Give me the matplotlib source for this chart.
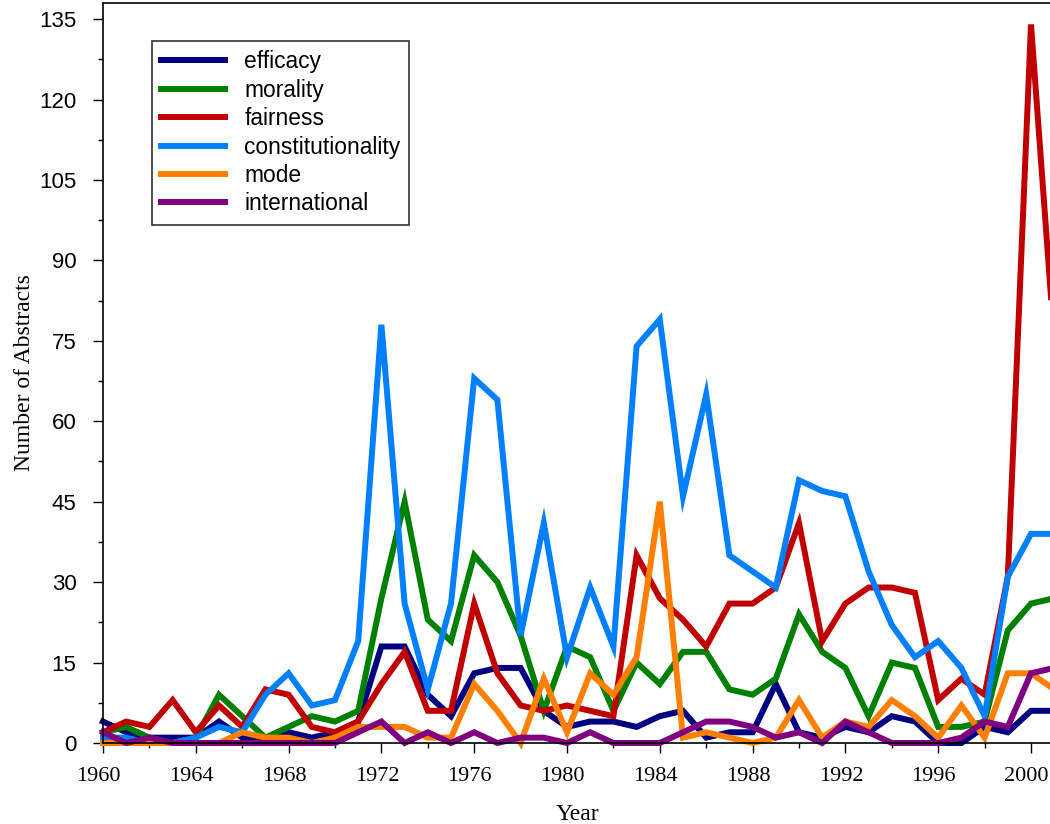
import numpy as np
import matplotlib
matplotlib.use("Agg")
import matplotlib.pyplot as plt
import matplotlib.transforms as mtransforms
from matplotlib.ticker import MultipleLocator

# Yearly counts of abstracts per frame, 1960-2001
years = np.arange(1960, 2002)

efficacy = [4, 2, 1, 1, 1, 4, 1, 1, 2, 1, 2, 4, 18, 18, 9, 5, 13, 14, 14, 6,
            3, 4, 4, 3, 5, 6, 1, 2, 2, 11, 2, 1, 3, 2, 5, 4, 0, 0, 3, 2, 6, 6]
morality = [2, 3, 1, 0, 1, 9, 5, 1, 3, 5, 4, 6, 27, 45, 23, 19, 35, 30, 20, 6,
            18, 16, 6, 15, 11, 17, 17, 10, 9, 12, 24, 17, 14, 5, 15, 14, 3, 3, 4, 21, 26, 27]
fairness = [2, 4, 3, 8, 2, 7, 3, 10, 9, 3, 2, 4, 11, 17, 6, 6, 26, 13, 7, 6,
            7, 6, 5, 35, 27, 23, 18, 26, 26, 29, 41, 19, 26, 29, 29, 28, 8, 12, 9, 31, 134, 75]
constitutionality = [1, 1, 0, 0, 1, 3, 2, 9, 13, 7, 8, 19, 78, 26, 10, 26, 68, 64, 20, 41,
                     16, 29, 18, 74, 79, 46, 65, 35, 32, 29, 49, 47, 46, 32, 22, 16, 19, 14, 5, 31, 39, 39]
mode = [0, 0, 0, 0, 0, 0, 2, 1, 1, 0, 1, 3, 3, 3, 1, 1, 11, 6, 0, 12,
        2, 13, 9, 16, 45, 1, 2, 1, 0, 1, 8, 1, 4, 3, 8, 5, 1, 7, 1, 13, 13, 10]
international = [2, 0, 1, 0, 0, 0, 0, 0, 0, 0, 0, 2, 4, 0, 2, 0, 2, 0, 1, 1,
                 0, 2, 0, 0, 0, 2, 4, 4, 3, 1, 2, 0, 4, 2, 0, 0, 0, 1, 4, 3, 13, 14]

series = [
    ("efficacy", efficacy, "#000080"),
    ("morality", morality, "#008000"),
    ("fairness", fairness, "#C00000"),
    ("constitutionality", constitutionality, "#0080FF"),
    ("mode", mode, "#FF8000"),
    ("international", international, "#800080"),
]

fig = plt.figure(figsize=(10.5, 8.24), dpi=100)
# axes run slightly past the right edge of the canvas
ax = fig.add_axes([103 / 1050, 81 / 824, 948 / 1050, 740 / 824])

for name, vals, col in series:
    ax.plot(years, vals, color=col, linewidth=4.3, label=name,
            solid_joinstyle="miter", clip_on=False)

ax.set_xlim(1960, 1960 + 948 / 23.2)
ax.set_ylim(0, 138)

ax.xaxis.set_major_locator(MultipleLocator(4))
ax.xaxis.set_minor_locator(MultipleLocator(2))
ax.yaxis.set_major_locator(MultipleLocator(15))
ax.yaxis.set_minor_locator(MultipleLocator(7.5))

ax.tick_params(axis="both", which="major", direction="out", length=7, width=1.0)
ax.tick_params(axis="both", which="minor", direction="out", length=3.5, width=1.0)
ax.tick_params(axis="x", which="major", pad=10)
ax.tick_params(axis="y", which="major", pad=12)

# year labels sit a little left of their ticks
shift = mtransforms.ScaledTranslation(-4.5 / 100, 0, fig.dpi_scale_trans)
for lab in ax.get_xticklabels():
    lab.set_fontfamily("Liberation Serif")
    lab.set_fontsize(16)
    lab.set_transform(lab.get_transform() + shift)
for lab in ax.get_yticklabels():
    lab.set_fontfamily("Liberation Sans")
    lab.set_fontsize(16)

ax.set_xlabel("Year", fontfamily="Liberation Serif", fontsize=17, labelpad=13)
ax.set_ylabel("Number of Abstracts", fontfamily="Liberation Serif", fontsize=17, labelpad=3)

for s in ["left", "bottom", "top"]:
    ax.spines[s].set_linewidth(1.2)
    ax.spines[s].set_color("black")
ax.spines["right"].set_visible(False)

leg = ax.legend(loc="upper left", bbox_to_anchor=(49 / 948, 702 / 740),
                borderaxespad=0, prop={"family": "Liberation Sans", "size": 16.4},
                handlelength=2.8, handletextpad=0.85, labelspacing=0.24,
                borderpad=0.4, fancybox=False, frameon=True)
leg.get_frame().set_edgecolor("black")
leg.get_frame().set_linewidth(1.2)
for h in leg.get_lines():
    h.set_linewidth(4.3)

fig.savefig("out.png", dpi=100)
